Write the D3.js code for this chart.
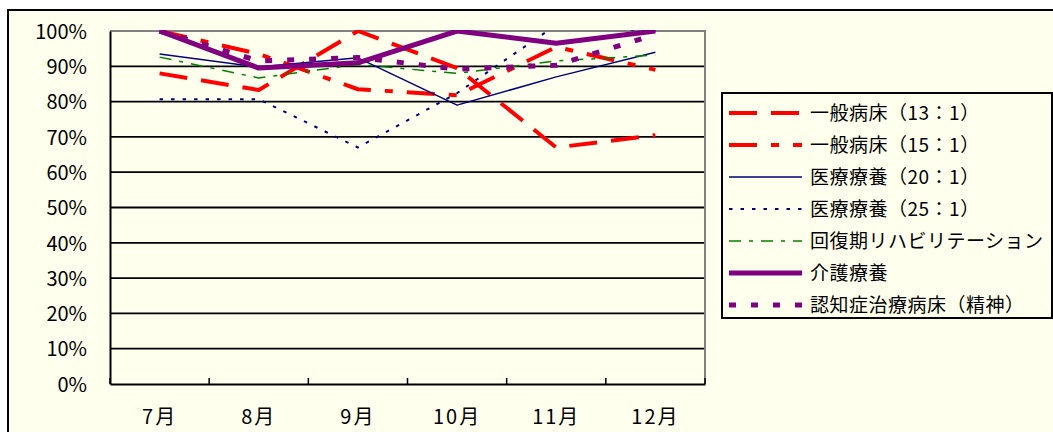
<!DOCTYPE html>
<html><head><meta charset="utf-8">
<script src="https://cdn.jsdelivr.net/npm/d3@7"></script>
<style>
html,body{margin:0;padding:0;background:#fff;}
svg{display:block;}
text{font-family:"Noto Sans CJK JP","Noto Sans",sans-serif;fill:#000;}
</style></head><body>
<script>
const categories = ["7月","8月","9月","10月","11月","12月"];
const yTicks = [0,0.1,0.2,0.3,0.4,0.5,0.6,0.7,0.8,0.9,1.0];
const seriesNames = ["一般病床（13：1）","一般病床（15：1）","医療療養（20：1）","医療療養（25：1）","回復期リハビリテーション","介護療養","認知症治療病床（精神）"];
const general13 = [0.88, 0.833, 1.00, 0.895, 0.67, 0.705];
const general15 = [1.00, 0.935, 0.835, 0.818, 0.955, 0.89];
const medical20 = [0.935, 0.898, 0.924, 0.79, 0.87, 0.94];
const medical25 = [0.807, 0.807, 0.67, 0.824, 1.017, 1.00];
const rehab = [0.926, 0.867, 0.905, 0.88, 0.915, 0.932];
const care = [1.00, 0.895, 0.91, 1.00, 0.965, 1.00];
const dementia = [1.00, 0.915, 0.925, 0.892, 0.903, 0.99];

const seriesValues = [general13, general15, medical20, medical25, rehab, care, dementia];
const seriesStyle = [
  {color:"#FF0000", width:4, dash:"28,14"},
  {color:"#FF0000", width:4, dash:"28,14,8,14"},
  {color:"#000080", width:1.5, dash:null},
  {color:"#000080", width:2, dash:"3.5,8"},
  {color:"#008000", width:1.5, dash:"12,8,4,8"},
  {color:"#800080", width:5, dash:null},
  {color:"#800080", width:5, dash:"7,15"}
];

const W = 1053, H = 432;
const bg = "#FFFFEE";
const svg = d3.select("body").append("svg").attr("width", W).attr("height", H);

svg.append("rect").attr("x",0).attr("y",0).attr("width",W).attr("height",H).attr("fill","#fff");
svg.append("rect").attr("x",8).attr("y",10).attr("width",1100).attr("height",500)
  .attr("fill",bg).attr("stroke","#000").attr("stroke-width",2);

const plot = {left:110, right:705, top:31, bottom:384};
const x = d3.scaleBand().domain(categories).range([plot.left, plot.right]);
const y = d3.scaleLinear().domain([0,1]).range([plot.bottom, plot.top]);

// gridlines
svg.append("g").selectAll("line").data(yTicks.filter(t => t > 0 && t < 1)).join("line")
  .attr("x1", plot.left).attr("x2", plot.right)
  .attr("y1", d => y(d)).attr("y2", d => y(d))
  .attr("stroke","#000").attr("stroke-width",1.8);

// plot border top/right gray
svg.append("path")
  .attr("d", `M${plot.left},${y(1)}H${plot.right}V${plot.bottom}`)
  .attr("fill","none").attr("stroke","#808080").attr("stroke-width",2);

// y axis
const yAxis = d3.axisLeft(y).tickValues(yTicks).tickFormat(d3.format(".0%")).tickSize(0).tickPadding(23);
const gy = svg.append("g").attr("transform",`translate(${plot.left},0)`).call(yAxis);
gy.select(".domain").attr("stroke","#000").attr("stroke-width",2);
gy.selectAll("text").attr("font-size",20).attr("dy","0.36em");

// x axis
const xAxis = d3.axisBottom(x).tickSize(0).tickPadding(26);
const gx = svg.append("g").attr("transform",`translate(0,${plot.bottom})`).call(xAxis);
gx.select(".domain").attr("stroke","#000").attr("stroke-width",2);
gx.selectAll("text").attr("font-size",20).attr("letter-spacing","2px").attr("dy","0.71em");
// category boundary ticks pointing up
const bounds = categories.map(c => x(c)).concat([plot.right]);
svg.append("g").selectAll("line").data(bounds).join("line")
  .attr("x1", d=>d).attr("x2", d=>d).attr("y1", plot.bottom - 6).attr("y2", plot.bottom)
  .attr("stroke","#000").attr("stroke-width",1.5);

// clip
svg.append("clipPath").attr("id","clip").append("rect")
  .attr("x",plot.left).attr("y",plot.top - 1).attr("width",plot.right-plot.left+2).attr("height",plot.bottom-plot.top+1);

const line = d3.line().x((d,i) => x(categories[i]) + x.bandwidth()/2).y(d => y(d));
const gLines = svg.append("g").attr("clip-path","url(#clip)");
seriesValues.forEach((vals, i) => {
  const s = seriesStyle[i];
  gLines.append("path").datum(vals).attr("d", line)
    .attr("fill","none").attr("stroke", s.color).attr("stroke-width", s.width)
    .attr("stroke-dasharray", s.dash).attr("stroke-linejoin","round");
});

// legend
const lg = svg.append("g");
lg.append("rect").attr("x",722).attr("y",93).attr("width",330).attr("height",225)
  .attr("fill",bg).attr("stroke","#000").attr("stroke-width",2);
seriesNames.forEach((name, i) => {
  const s = seriesStyle[i];
  const cy = 113 + i * 32;
  lg.append("line").attr("x1",729).attr("x2",802).attr("y1",cy).attr("y2",cy)
    .attr("stroke", s.color).attr("stroke-width", s.width).attr("stroke-dasharray", s.dash);
  lg.append("text").attr("x",810).attr("y",cy).attr("dy","0.36em")
    .attr("font-size",19).attr("letter-spacing","0.5px").text(name);
});
</script>
</body></html>
